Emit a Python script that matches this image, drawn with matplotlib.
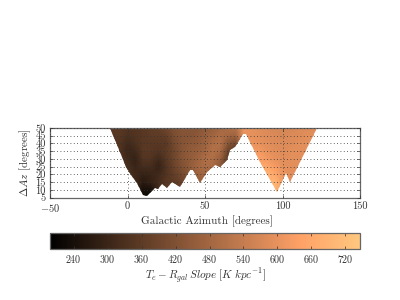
import matplotlib
matplotlib.use('Agg')
import matplotlib.pyplot as plt
import numpy as np
from matplotlib.patches import Polygon

plt.rcParams['font.family'] = ['cmr10', 'DejaVu Serif']
plt.rcParams['mathtext.fontset'] = 'cm'
plt.rcParams['axes.unicode_minus'] = False
plt.rcParams['axes.formatter.use_mathtext'] = True

# slope table, rows are delta az, columns are azimuth
az_nodes = [-15, -10, -5, 0, 5, 10, 15, 20, 25, 30, 35, 40, 45, 50, 55, 60, 65, 70, 75, 80, 85, 90, 95, 100, 105, 110, 115, 120, 125]
dz_nodes = [5, 10, 15, 20, 25, 30, 35, 40, 45, 50]
slopes = [
    [340, 340, 340, 320, 290, 230, 205, 300, 340, 350, 370, 400, 420, 440, 440, 420, 340, 340, 580, 600, 620, 640, 690, 640, 590, 590, 590, 590, 590],
    [340, 340, 340, 320, 300, 240, 240, 310, 350, 360, 380, 400, 430, 450, 450, 420, 340, 340, 580, 600, 620, 650, 700, 630, 580, 590, 590, 590, 590],
    [340, 340, 340, 330, 310, 270, 290, 320, 350, 360, 380, 410, 450, 470, 450, 420, 340, 350, 580, 600, 620, 670, 700, 620, 580, 590, 590, 590, 590],
    [340, 340, 340, 330, 310, 290, 300, 310, 340, 370, 400, 430, 470, 480, 470, 430, 340, 350, 580, 600, 630, 690, 660, 610, 590, 590, 590, 590, 590],
    [340, 340, 340, 330, 300, 320, 320, 290, 340, 380, 420, 450, 480, 500, 490, 440, 340, 350, 580, 600, 650, 660, 630, 600, 590, 590, 590, 590, 590],
    [340, 340, 340, 310, 290, 340, 340, 310, 350, 390, 430, 450, 470, 500, 500, 460, 350, 360, 580, 610, 640, 620, 600, 590, 590, 590, 590, 590, 590],
    [350, 350, 340, 300, 310, 350, 350, 340, 360, 390, 430, 450, 460, 480, 510, 490, 380, 350, 580, 620, 620, 600, 590, 580, 590, 590, 590, 590, 590],
    [350, 350, 340, 310, 330, 350, 350, 350, 350, 400, 430, 440, 450, 470, 500, 510, 430, 400, 590, 610, 600, 590, 580, 580, 580, 590, 590, 590, 590],
    [350, 350, 350, 330, 340, 350, 360, 360, 370, 410, 430, 430, 440, 460, 480, 500, 480, 470, 600, 600, 590, 580, 580, 570, 580, 580, 590, 590, 590],
    [350, 350, 350, 340, 340, 350, 360, 370, 390, 420, 430, 430, 430, 450, 460, 480, 500, 510, 610, 600, 590, 580, 570, 570, 570, 580, 580, 580, 580],
]
# outline of the filled area
edge_az = [-11.3, -4.8, -1.2, 2.3, 5.9, 10.2, 12.4, 14.5, 17.7, 19.9, 22.5, 25.3, 28.5, 31.7, 34, 40.3, 42, 46.8, 51.1, 56.5, 59.7, 64, 66.1, 69.4, 74.7, 76.2, 85.5, 96.7, 102, 104.8, 122.5]
edge_dz = [50, 34.7, 25, 19.6, 14.3, 6.7, 6.3, 7.8, 11, 10.5, 13.6, 11.5, 14.9, 13.2, 12.1, 22.9, 22.9, 14.3, 21.8, 26.1, 25, 29.3, 35.8, 37.9, 45.9, 45.9, 28.2, 8.9, 20.7, 14.9, 50]
x_ticks = [-50, 0, 50, 100, 150]
y_ticks = [5, 10, 15, 20, 25, 30, 35, 40, 45, 50]
cbar_ticks = [240, 300, 360, 420, 480, 540, 600, 660, 720]

fig = plt.figure(figsize=(4, 3), dpi=100)
ax = fig.add_axes([50 / 400, 1 - 197.7 / 300, 310 / 400, 69.7 / 300])

mesh = ax.pcolormesh(az_nodes, dz_nodes, np.array(slopes), cmap='copper', vmin=198, vmax=746, shading='gouraud', zorder=1)
outline = Polygon(list(zip(edge_az, edge_dz)), closed=True, transform=ax.transData)
mesh.set_clip_path(outline)

ax.set_xlim(-50, 150)
ax.set_ylim(5, 50)
ax.set_xticks(x_ticks)
ax.set_xticklabels(['$-50$', '0', '50', '100', '150'])
ax.set_yticks(y_ticks)
ax.set_yticklabels([str(t) for t in y_ticks])
ax.tick_params(direction='in', length=2.5, width=0.5, labelsize=7.5, pad=3, top=True, right=True, color='#333333', labelcolor='#333333')
ax.grid(True, color='#333333', linestyle=(0, (1, 3)), linewidth=0.6, zorder=2)
ax.set_axisbelow(False)
for s in ax.spines.values():
    s.set_linewidth(0.9)
    s.set_color('#666666')
ax.set_xlabel('Galactic Azimuth [degrees]', fontsize=8, labelpad=1, color='#333333', x=0.505)
ax.set_ylabel(r'$\Delta Az$ [degrees]', fontsize=8, labelpad=1.5, color='#333333')

cax = fig.add_axes([50 / 400, 1 - 249.3 / 300, 310 / 400, 16.3 / 300])
cb = fig.colorbar(mesh, cax=cax, orientation='horizontal')
cb.set_ticks(cbar_ticks)
cb.ax.tick_params(direction='in', length=2.5, width=0.5, labelsize=7.2, pad=3, color='#333333', labelcolor='#333333', top=True)
cb.outline.set_linewidth(0.9)
cb.outline.set_edgecolor('#666666')
cb.set_label(r'$T_{e}-R_{gal}\,Slope\ [K\ kpc^{-1}]$', fontsize=8, labelpad=1, color='#333333')

fig.savefig('out.png', dpi=100)
